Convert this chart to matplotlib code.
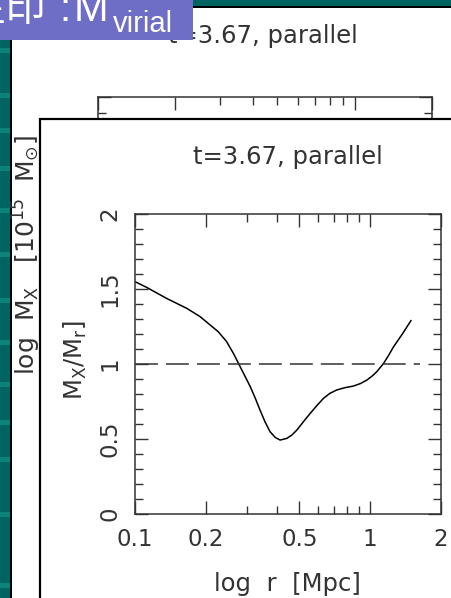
import matplotlib.pyplot as plt
from matplotlib.patches import Rectangle
from matplotlib.ticker import FixedLocator, NullFormatter

plt.rcParams['lines.scale_dashes'] = False
plt.rcParams['font.family'] = ['DejaVu Sans']
plt.rcParams['mathtext.fontset'] = 'dejavusans'

# data
r_mpc = [0.1, 0.112, 0.136, 0.166, 0.189, 0.226, 0.245, 0.262, 0.280, 0.309,
         0.325, 0.340, 0.357, 0.375, 0.395, 0.414, 0.442, 0.465, 0.488, 0.52,
         0.556, 0.595, 0.633, 0.675, 0.721, 0.78, 0.849, 0.91, 0.968, 1.02,
         1.067, 1.14, 1.2, 1.257, 1.37, 1.49]
mass_ratio = [1.549, 1.511, 1.438, 1.371, 1.316, 1.215, 1.15, 1.071, 0.982, 0.849,
              0.77, 0.693, 0.615, 0.549, 0.51, 0.493, 0.504, 0.527, 0.56, 0.615,
              0.671, 0.725, 0.771, 0.805, 0.827, 0.842, 0.853, 0.87, 0.893, 0.92,
              0.949, 1.004, 1.06, 1.115, 1.2, 1.289]
ref_x = [0.1, 1.63]
ref_y = [1.0, 1.0]

x_major = [0.1, 0.2, 0.5, 1, 2]
x_labels = ['0.1', '0.2', '0.5', '1', '2']
x_minor = [0.3, 0.4, 0.6, 0.7, 0.8, 0.9]
y_major = [0, 0.5, 1, 1.5, 2]
y_labels = ['0', '0.5', '1', '1.5', '2']
y_minor = [0.1, 0.2, 0.3, 0.4, 0.6, 0.7, 0.8, 0.9, 1.1, 1.2, 1.3, 1.4, 1.6, 1.7, 1.8, 1.9]

title = 't=3.67, parallel'

W, H = 451, 598
ink = '#333333'
teal = '#006562'

fig = plt.figure(figsize=(W / 100, H / 100), dpi=100)
fig.patch.set_facecolor('white')


def rect(x0, y0, x1, y1, **kw):
    # pixel box (top-left origin) -> figure rectangle
    p = Rectangle((x0 / W, 1 - y1 / H), (x1 - x0) / W, (y1 - y0) / H,
                  transform=fig.transFigure, **kw)
    fig.add_artist(p)
    return p


# slide background
rect(0, 0, 10, H, color=teal, zorder=0.1, lw=0)
for yy in [48, 93, 128, 166, 208, 252, 298, 340, 382, 420, 457, 512, 583]:
    rect(0, yy, 10, yy + 5, color='#0b827c', zorder=0.15, lw=0)
rect(0, 0, W, 6, color=teal, zorder=0.1, lw=0)
rect(9.5, 6, 12, H, color='black', zorder=0.2, lw=0)
rect(9.5, 5.5, W, 7.5, color='black', zorder=0.2, lw=0)


def style_axes(ax):
    ax.set_xscale('log')
    ax.set_xlim(0.1, 2)
    ax.set_ylim(0, 2)
    ax.set_facecolor('none')
    for s in ax.spines.values():
        s.set_color(ink)
        s.set_linewidth(1.1)
    ax.xaxis.set_major_locator(FixedLocator(x_major))
    ax.xaxis.set_minor_locator(FixedLocator(x_minor))
    ax.xaxis.set_minor_formatter(NullFormatter())
    ax.yaxis.set_major_locator(FixedLocator(y_major))
    ax.yaxis.set_minor_locator(FixedLocator(y_minor))
    ax.tick_params(which='both', direction='in', top=True, right=True,
                   color=ink, width=1.0)
    ax.tick_params(which='major', length=9.5)
    ax.tick_params(which='minor', length=5.8)
    # 0.5 drawn as a short tick in the original
    t = ax.xaxis.get_major_ticks()[2]
    t.tick1line.set_markersize(5.8)
    t.tick2line.set_markersize(5.8)


# background (partly hidden) panel
bg = fig.add_axes([98 / W, 1 - 424 / H, 334 / W, 327 / H], zorder=1)
style_axes(bg)
bg.set_xticklabels([])
bg.set_yticklabels([])
fig.text(263 / W, 1 - 36 / H, title, ha='center', va='center',
         fontsize=17.5, color=ink, zorder=1)
fig.text(26.5 / W, 1 - 255 / H, r'log  M$_{\mathrm{X}}$   [10$^{15}$  M$_{\odot}$]',
         rotation=90, ha='center', va='center', fontsize=18, color=ink, zorder=1)

# foreground panel
rect(40, 118.5, W + 5, H + 5, facecolor='white', edgecolor='black', lw=1.6, zorder=2)

ax = fig.add_axes([135 / W, 1 - 514 / H, 306 / W, 300 / H], zorder=3)
style_axes(ax)
ax.plot(r_mpc, mass_ratio, color='black', lw=1.1)
ax.plot(ref_x, ref_y, color=ink, lw=1.1, ls=(0, (16.5, 5.8)))

ax.set_xticklabels(x_labels)
ax.set_yticklabels(y_labels)
ax.tick_params(axis='both', which='major', labelsize=16.5, labelcolor=ink, pad=10)
ax.tick_params(axis='y', labelrotation=90)
for lab in ax.get_yticklabels():
    lab.set_va('center')

fig.text(288 / W, 1 - 157 / H, title, ha='center', va='center',
         fontsize=17.5, color=ink, zorder=3)
fig.text(75 / W, 1 - 360 / H, r'M$_{\mathrm{X}}$/M$_{\mathrm{r}}$]', rotation=90,
         ha='center', va='center', fontsize=17.5, color=ink, zorder=3)
fig.text(287 / W, 1 - 584 / H, 'log  r  [Mpc]', ha='center', va='center',
         fontsize=17.5, color=ink, zorder=3)

# slide caption box (cut off at the top-left, as in the slide)
rect(0, 0, 193, 40, color='#6e6ec6', zorder=10, lw=0)
fig.text(46 / W, 1 - 21 / H, '星印', ha='right', va='baseline', fontsize=29,
         color='white', family=['Noto Sans CJK JP', 'DejaVu Sans'], zorder=11)
fig.text(65 / W, 1 - 21 / H, ':', ha='center', va='baseline', fontsize=29,
         color='white', family='Liberation Sans', zorder=11)
fig.text(74 / W, 1 - 21 / H, 'M', ha='left', va='baseline', fontsize=30,
         color='white', family='Liberation Sans', zorder=11)
fig.text(113 / W, 1 - 32 / H, 'virial', ha='left', va='baseline', fontsize=21,
         color='white', family='Liberation Sans', zorder=11)

fig.savefig('out.png', dpi=100)
